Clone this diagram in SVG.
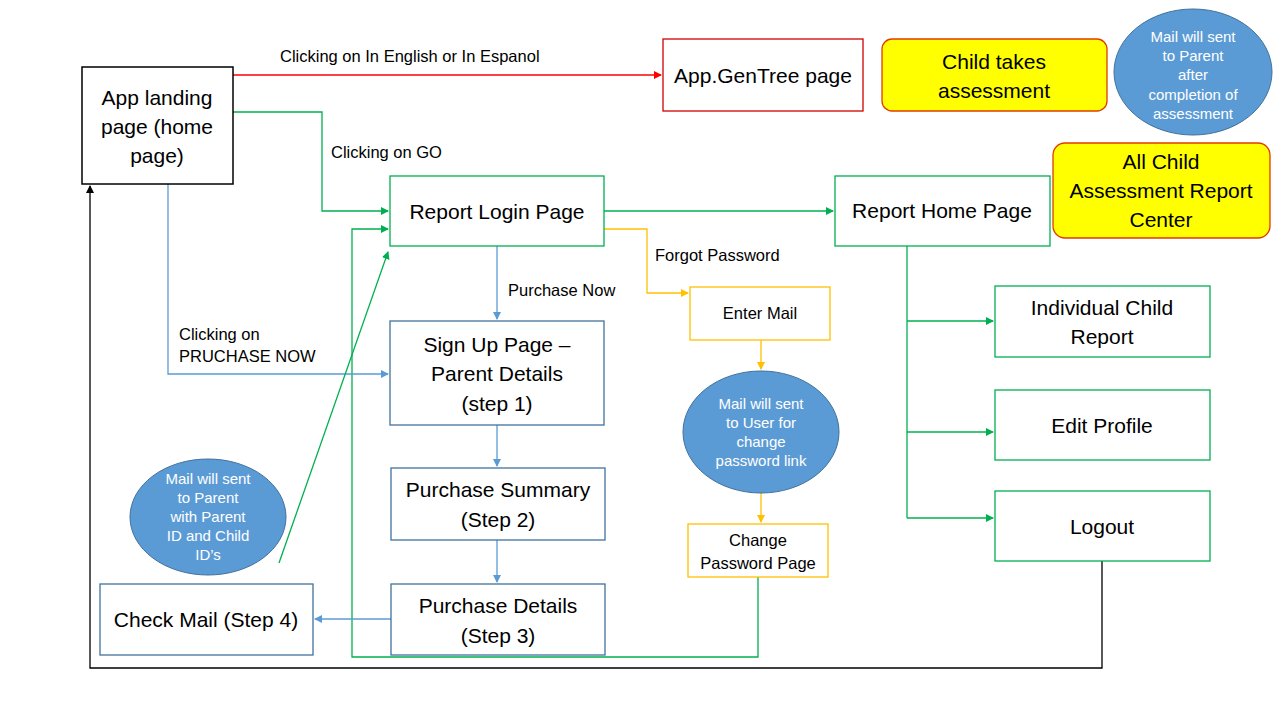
<svg xmlns="http://www.w3.org/2000/svg" width="1280" height="720" viewBox="0 0 1280 720">
<defs>
<marker id="aR" markerWidth="8" markerHeight="8" refX="7" refY="4" orient="auto" markerUnits="userSpaceOnUse"><path d="M0,0 L8,4 L0,8 z" fill="#FF0000"/></marker>
<marker id="aG" markerWidth="8" markerHeight="8" refX="7" refY="4" orient="auto" markerUnits="userSpaceOnUse"><path d="M0,0 L8,4 L0,8 z" fill="#00B050"/></marker>
<marker id="aB" markerWidth="8" markerHeight="8" refX="7" refY="4" orient="auto" markerUnits="userSpaceOnUse"><path d="M0,0 L8,4 L0,8 z" fill="#5B9BD5"/></marker>
<marker id="aY" markerWidth="8" markerHeight="8" refX="7" refY="4" orient="auto" markerUnits="userSpaceOnUse"><path d="M0,0 L8,4 L0,8 z" fill="#FFC000"/></marker>
<marker id="aK" markerWidth="8" markerHeight="8" refX="7" refY="4" orient="auto" markerUnits="userSpaceOnUse"><path d="M0,0 L8,4 L0,8 z" fill="#000"/></marker>
</defs>
<style>
text{font-family:"Liberation Sans",Arial,sans-serif;fill:#000}
.t20{font-size:21px;text-anchor:middle}
.t15{font-size:16.5px;text-anchor:middle}
.lbl{font-size:16.5px}
.w13{font-size:15px;text-anchor:middle;fill:#fff}
.gbox{fill:#fff;stroke:#00B050;stroke-width:1.3}
.bbox{fill:#fff;stroke:#41719C;stroke-width:1.3}
.ybox{fill:#fff;stroke:#FFC000;stroke-width:1.3}
.ylw{fill:#FFFF00;stroke:#E03C00;stroke-width:1.3}
.circ{fill:#5B9BD5;stroke:#41719C;stroke-width:1}
.c{fill:none;stroke-width:1.3}
</style>
<rect width="1280" height="720" fill="#fff"/>
<g id="connectors">
<path class="c" d="M233,75 H661" stroke="#FF0000" marker-end="url(#aR)"/>
<path class="c" d="M233,112 H322 V211 H388" stroke="#00B050" marker-end="url(#aG)"/>
<path class="c" d="M604,211 H833" stroke="#00B050" marker-end="url(#aG)"/>
<path class="c" d="M604,229 H647 V293 H688" stroke="#FFC000" marker-end="url(#aY)"/>
<path class="c" d="M761,340 V369" stroke="#FFC000" marker-end="url(#aY)"/>
<path class="c" d="M761,493 V522" stroke="#FFC000" marker-end="url(#aY)"/>
<path class="c" d="M758,577 V657 H352 V229 H388" stroke="#00B050" marker-end="url(#aG)"/>
<path class="c" d="M497,246 V319" stroke="#5B9BD5" marker-end="url(#aB)"/>
<path class="c" d="M168,184 V374 H388" stroke="#5B9BD5" marker-end="url(#aB)"/>
<path class="c" d="M497,425 V466" stroke="#5B9BD5" marker-end="url(#aB)"/>
<path class="c" d="M497,540 V582" stroke="#5B9BD5" marker-end="url(#aB)"/>
<path class="c" d="M391,619 H315" stroke="#5B9BD5" marker-end="url(#aB)"/>
<path class="c" d="M279,563 L388,252" stroke="#00B050" marker-end="url(#aG)"/>
<path class="c" d="M1102,561 V668 H90 V186" stroke="#000" marker-end="url(#aK)"/>
<path class="c" d="M907,246 V518" stroke="#00B050"/>
<path class="c" d="M907,321 H993" stroke="#00B050" marker-end="url(#aG)"/>
<path class="c" d="M907,432 H993" stroke="#00B050" marker-end="url(#aG)"/>
<path class="c" d="M907,518 H993" stroke="#00B050" marker-end="url(#aG)"/>
<text class="lbl" x="280" y="62">Clicking on In English or In Espanol</text>
<text class="lbl" x="331" y="158">Clicking on GO</text>
<text class="lbl" x="655" y="261">Forgot Password</text>
<text class="lbl" x="508" y="296">Purchase Now</text>
<text class="lbl" x="179" y="340">Clicking on</text>
<text class="lbl" x="179" y="362">PRUCHASE NOW</text>
</g>
<g id="landing"><rect x="82" y="67" width="151" height="117" fill="#fff" stroke="#000" stroke-width="1.5"/>
<text class="t20" x="157" y="105">App landing</text><text class="t20" x="157" y="134">page (home</text><text class="t20" x="157" y="163">page)</text></g>
<g id="gentree"><rect x="663" y="39" width="200" height="72" fill="#fff" stroke="#D00000" stroke-width="1.3"/>
<text class="t20" x="763" y="83">App.GenTree page</text></g>
<g id="childtakes"><rect class="ylw" x="882" y="39" width="225" height="72" rx="10"/>
<text class="t20" x="994" y="69">Child takes</text><text class="t20" x="994" y="98">assessment</text></g>
<g id="mailparent2"><ellipse class="circ" cx="1193" cy="72" rx="79" ry="63"/>
<text class="w13" x="1193" y="42">Mail will sent</text><text class="w13" x="1193" y="61">to Parent</text><text class="w13" x="1193" y="80">after</text><text class="w13" x="1193" y="100">completion of</text><text class="w13" x="1193" y="119">assessment</text></g>
<g id="allchild"><rect class="ylw" x="1053" y="143" width="217" height="95" rx="12"/>
<text class="t20" x="1161" y="169">All Child</text><text class="t20" x="1161" y="198">Assessment Report</text><text class="t20" x="1161" y="227">Center</text></g>
<g id="login"><rect class="gbox" x="390" y="176" width="214" height="70"/>
<text class="t20" x="497" y="219">Report Login Page</text></g>
<g id="home"><rect class="gbox" x="835" y="176" width="215" height="70"/>
<text class="t20" x="942" y="218">Report Home Page</text></g>
<g id="entermail"><rect class="ybox" x="690" y="287" width="140" height="53"/>
<text class="t15" x="760" y="319">Enter Mail</text></g>
<g id="mailuser"><ellipse class="circ" cx="761" cy="432" rx="78" ry="61"/>
<text class="w13" x="761" y="409">Mail will sent</text><text class="w13" x="761" y="428">to User for</text><text class="w13" x="761" y="447">change</text><text class="w13" x="761" y="466">password link</text></g>
<g id="changepw"><rect class="ybox" x="688" y="524" width="140" height="53"/>
<text class="t15" x="758" y="546">Change</text><text class="t15" x="758" y="569">Password Page</text></g>
<g id="signup"><rect class="bbox" x="390" y="321" width="214" height="104"/>
<text class="t20" x="497" y="352">Sign Up Page –</text><text class="t20" x="497" y="381">Parent Details</text><text class="t20" x="497" y="411">(step 1)</text></g>
<g id="summary"><rect class="bbox" x="391" y="468" width="214" height="72"/>
<text class="t20" x="498" y="497">Purchase Summary</text><text class="t20" x="498" y="527">(Step 2)</text></g>
<g id="details"><rect class="bbox" x="391" y="584" width="214" height="71"/>
<text class="t20" x="498" y="613">Purchase Details</text><text class="t20" x="498" y="643">(Step 3)</text></g>
<g id="checkmail"><rect class="bbox" x="100" y="584" width="213" height="71"/>
<text class="t20" x="206" y="627">Check Mail (Step 4)</text></g>
<g id="mailparent"><ellipse class="circ" cx="208" cy="517" rx="78" ry="58"/>
<text class="w13" x="208" y="484">Mail will sent</text><text class="w13" x="208" y="503">to Parent</text><text class="w13" x="208" y="522">with Parent</text><text class="w13" x="208" y="541">ID and Child</text><text class="w13" x="208" y="560">ID’s</text></g>
<g id="individual"><rect class="gbox" x="995" y="286" width="215" height="71"/>
<text class="t20" x="1102" y="315">Individual Child</text><text class="t20" x="1102" y="344">Report</text></g>
<g id="editprofile"><rect class="gbox" x="995" y="390" width="215" height="70"/>
<text class="t20" x="1102" y="433">Edit Profile</text></g>
<g id="logout"><rect class="gbox" x="995" y="491" width="215" height="70"/>
<text class="t20" x="1102" y="534">Logout</text></g>
</svg>
